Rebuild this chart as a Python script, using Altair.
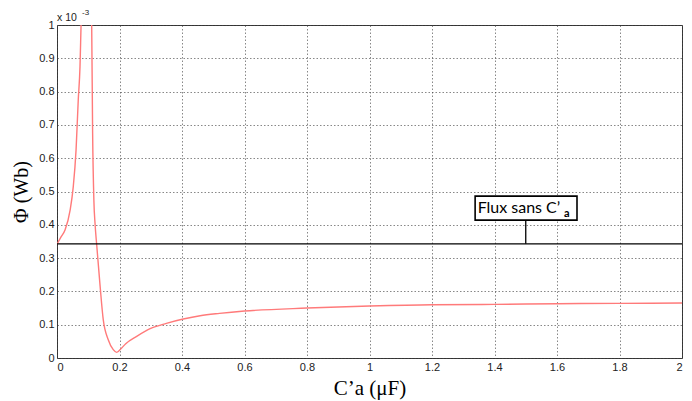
import altair as alt
import pandas as pd

# Curve: left branch (rises to asymptote) and right branch (falls from asymptote)
left_x = [0.0, 0.012, 0.026, 0.042, 0.052, 0.061, 0.068, 0.0736, 0.077, 0.080]
left_y = [0.342, 0.362, 0.385, 0.444, 0.514, 0.625, 0.775, 0.875, 1.0, 1.1]
right_x = [0.108, 0.111, 0.114, 0.118, 0.122, 0.127, 0.138, 0.148, 0.164, 0.180, 0.191,
           0.207, 0.22, 0.255, 0.298, 0.35, 0.404, 0.458, 0.52, 0.6, 0.8, 1.0, 1.2,
           1.4, 1.6, 1.8, 2.0]
right_y = [1.1, 1.0, 0.675, 0.474, 0.40, 0.340, 0.215, 0.115, 0.055, 0.025, 0.017,
           0.030, 0.043, 0.065, 0.088, 0.104, 0.117, 0.127, 0.134, 0.141, 0.150, 0.156, 0.160,
           0.161, 0.163, 0.164, 0.165]

flux_ref = 0.343          # "Flux sans C'a" level
label_x = 1.5             # leader line position
box_x = [1.338, 1.664]
box_y = [0.414, 0.486]

x_ticks = [0, 0.2, 0.4, 0.6, 0.8, 1.0, 1.2, 1.4, 1.6, 1.8, 2.0]
y_ticks = [0, 0.1, 0.2, 0.3, 0.4, 0.5, 0.6, 0.7, 0.8, 0.9, 1.0]

curve = pd.DataFrame({
    "x": left_x + right_x,
    "y": left_y + right_y,
    "branch": ["L"] * len(left_x) + ["R"] * len(right_x),
})

xs = alt.Scale(domain=[0, 2], nice=False)
ys = alt.Scale(domain=[0, 1], nice=False)

grid_kw = dict(grid=True, gridColor="#444", gridDash=[1.5, 2], gridWidth=0.8, gridOpacity=0.8)
xaxis = alt.Axis(values=x_ticks, format=".1~f", title="C\u2019a (\u03bcF)",
                 titleFont="Liberation Serif", titleFontSize=21, titleFontWeight="normal",
                 titleColor="#000", titlePadding=5,
                 labelFont="Liberation Sans", labelFontSize=11, labelColor="#222",
                 labelPadding=3, tickSize=0, domain=False, labelOverlap=False, **grid_kw)
yaxis = alt.Axis(values=y_ticks, format=".1~f", title="\u03a6 (Wb)",
                 titleFont="Liberation Serif", titleFontSize=20, titleFontWeight="normal",
                 titleColor="#000", titlePadding=7,
                 labelFont="Liberation Sans", labelFontSize=11, labelColor="#222",
                 labelPadding=3, tickSize=0, domain=False, labelOverlap=False, **grid_kw)


def X(field):
    return alt.X(field, scale=xs, axis=xaxis)


def Y(field):
    return alt.Y(field, scale=ys, axis=yaxis)


lines = alt.Chart(curve).mark_line(color="#ff7a7a", strokeWidth=1.4, clip=True,
                                   interpolate="monotone").encode(
    x=X("x:Q"), y=Y("y:Q"), detail="branch:N",
)

hline = alt.Chart(pd.DataFrame({"y": [flux_ref]})).mark_rule(color="#000", strokeWidth=1.3).encode(
    y=Y("y:Q")
)

leader = alt.Chart(pd.DataFrame({"x": [label_x], "y": [flux_ref], "y2": [box_y[0]]})).mark_rule(
    color="#000", strokeWidth=1.3).encode(x=X("x:Q"), y=Y("y:Q"), y2="y2:Q")

box = alt.Chart(pd.DataFrame({"x": [box_x[0]], "x2": [box_x[1]], "y": [box_y[0]], "y2": [box_y[1]]})).mark_rect(
    fill="white", stroke="#000", strokeWidth=1.6).encode(
    x=X("x:Q"), x2="x2:Q", y=Y("y:Q"), y2="y2:Q")

box_text = alt.Chart(pd.DataFrame({"x": [box_x[0] + 0.008], "y": [(box_y[0] + box_y[1]) / 2], "t": ["Flux sans C\u2019"]})).mark_text(
    align="left", baseline="middle", font="Lato", fontSize=16, color="#000").encode(
    x=X("x:Q"), y=Y("y:Q"), text="t:N")

sub_text = alt.Chart(pd.DataFrame({"x": [1.622], "y": [box_y[0]], "t": ["a"]})).mark_text(
    align="left", baseline="bottom", font="Lato", fontSize=11, fontWeight="bold",
    color="#000", dy=-1.5).encode(
    x=X("x:Q"), y=Y("y:Q"), text="t:N")

exp_main = alt.Chart(pd.DataFrame({"t": ["x 10"]})).mark_text(
    align="left", baseline="alphabetic", font="Liberation Sans", fontSize=10.5, color="#222").encode(
    x=alt.value(0), y=alt.value(-4), text="t:N")
exp_sup = alt.Chart(pd.DataFrame({"t": ["-3"]})).mark_text(
    align="left", baseline="alphabetic", font="Liberation Sans", fontSize=8, color="#222").encode(
    x=alt.value(25), y=alt.value(-10), text="t:N")

chart = alt.layer(lines, hline, leader, box, box_text, sub_text, exp_main, exp_sup).properties(
    width=625, height=333,
    autosize=alt.AutoSizeParams(type="none"),
    padding={"left": 57, "top": 25, "right": 10, "bottom": 43},
    background="white",
).configure_view(stroke="#333", strokeWidth=1)

chart.save("out.html", embed_options={"renderer": "svg", "actions": False})
